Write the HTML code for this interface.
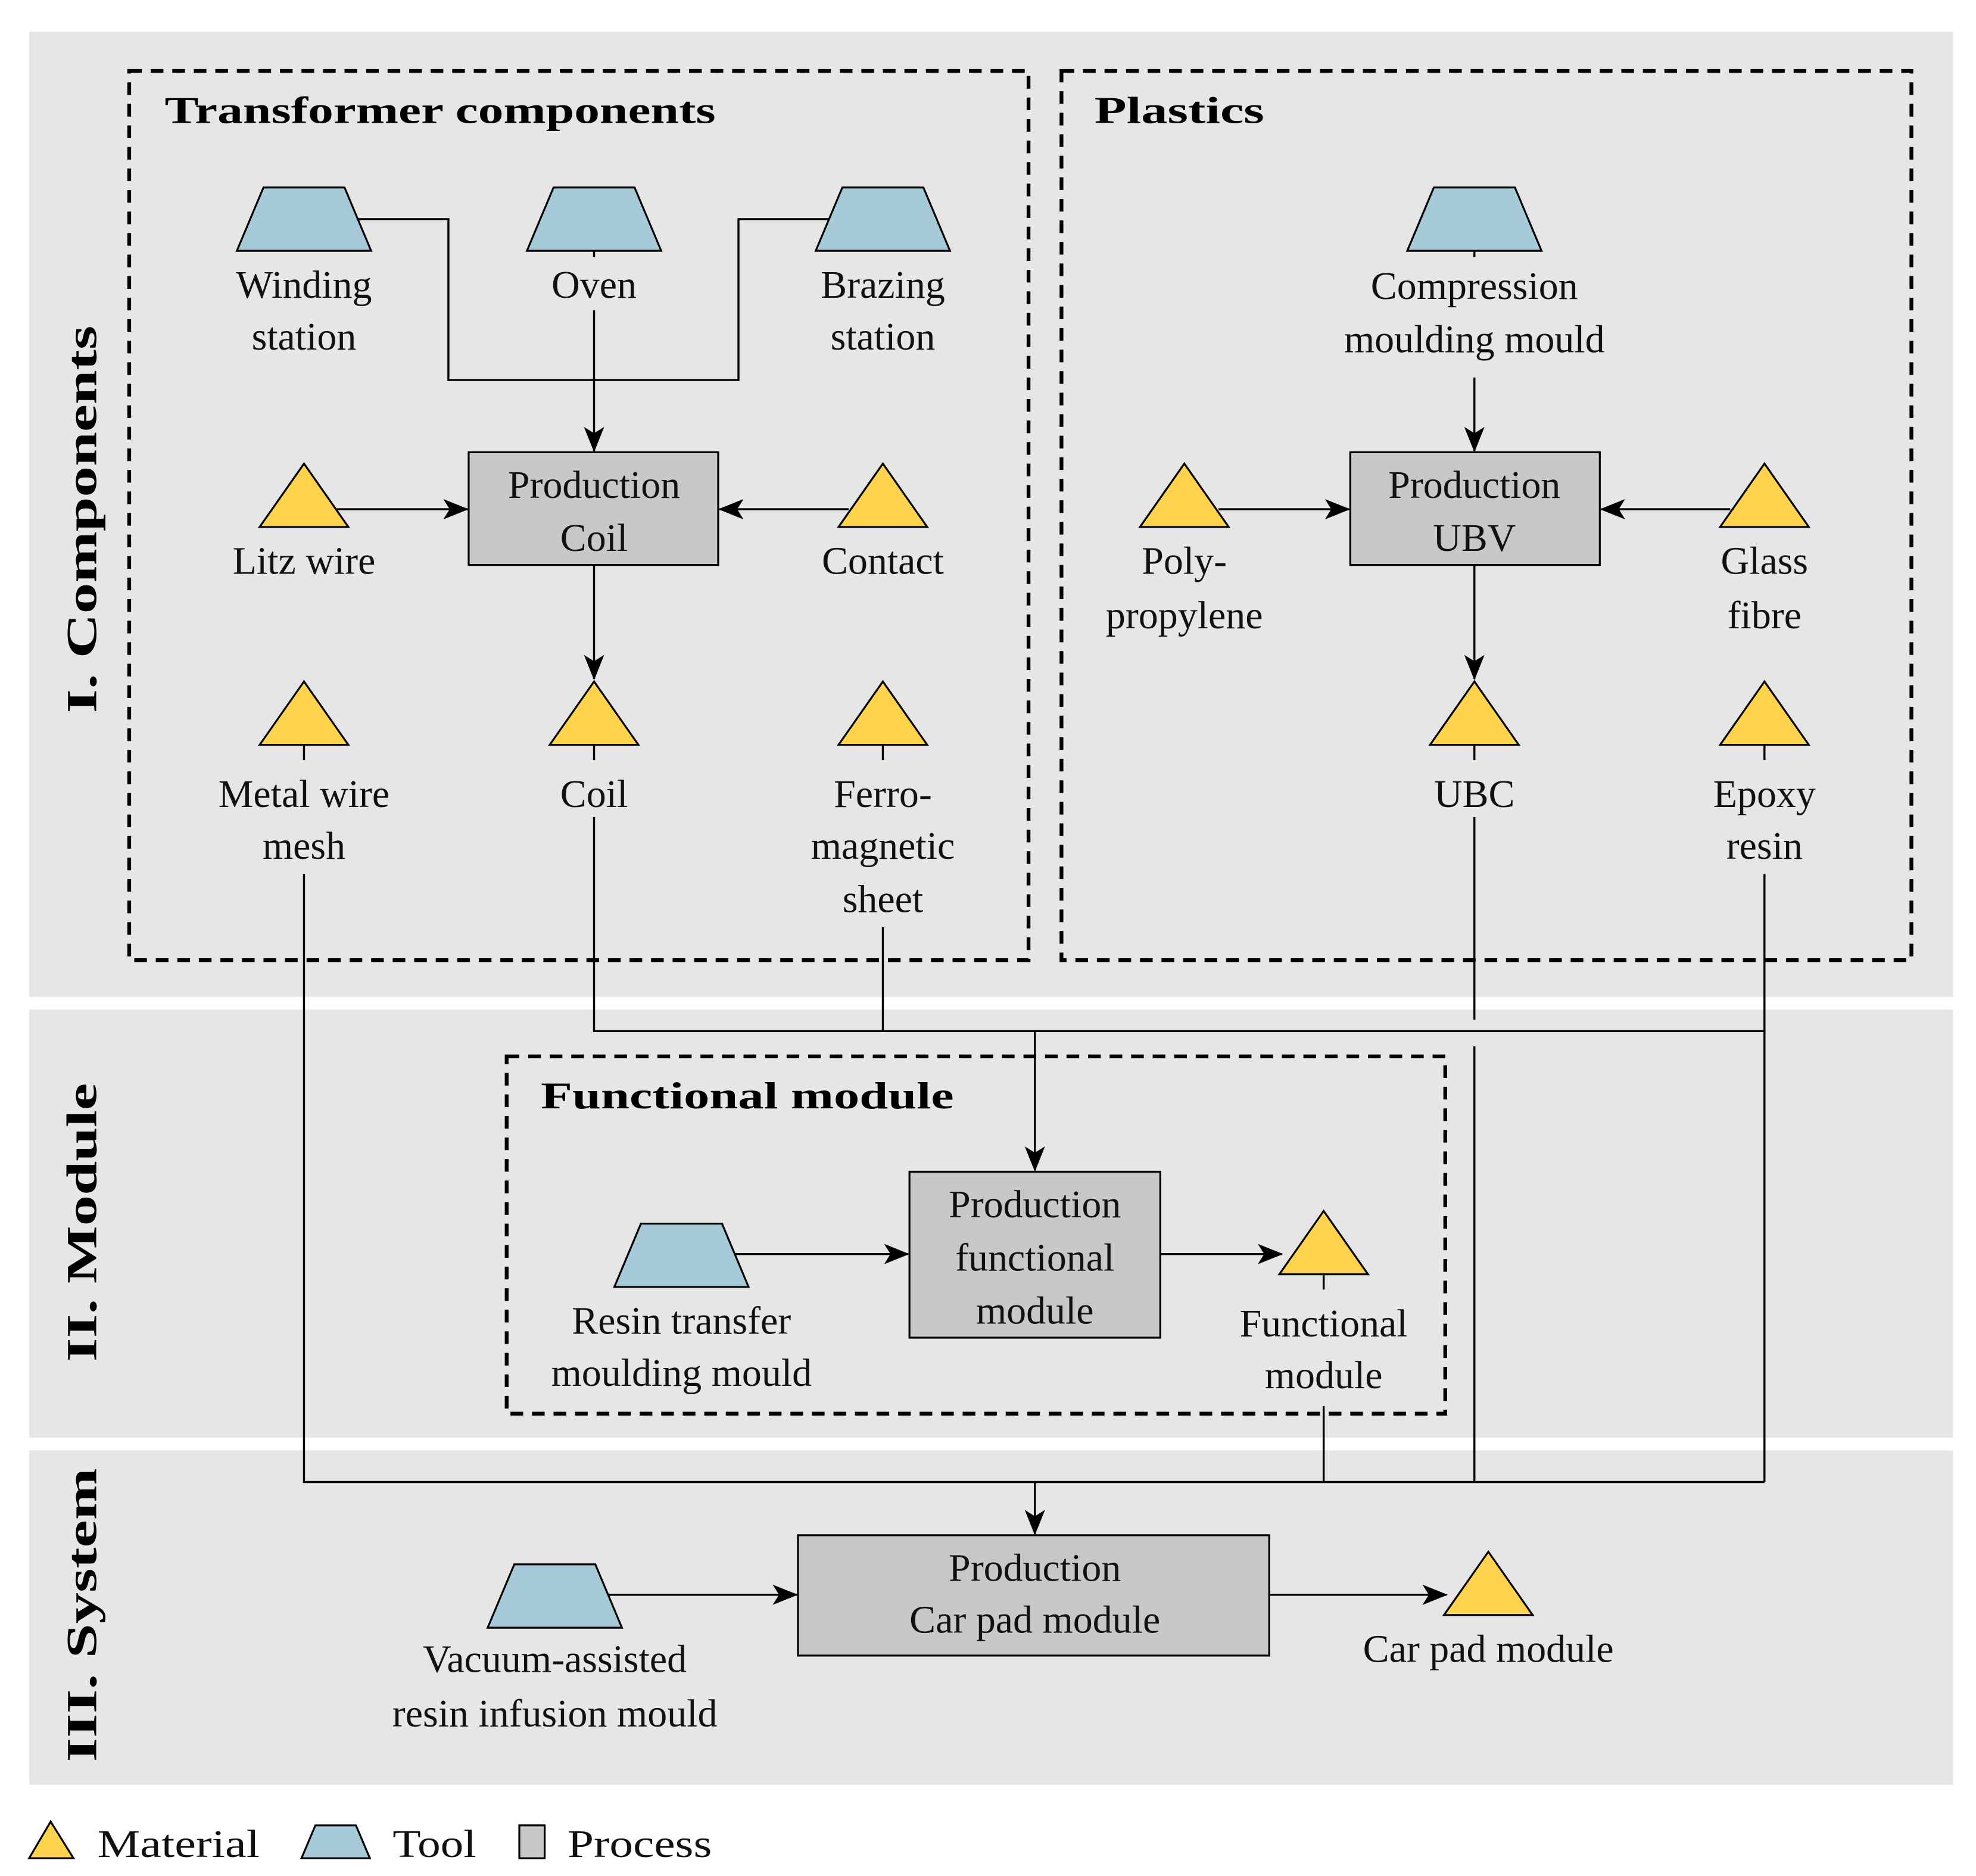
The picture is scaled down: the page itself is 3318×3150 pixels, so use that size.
<!DOCTYPE html>
<html><head><meta charset="utf-8"><style>html,body{margin:0;padding:0;background:#fff}svg{display:block}</style></head>
<body>
<svg width="3318" height="3150" viewBox="0 0 1560 1481" xmlns="http://www.w3.org/2000/svg" font-family="Liberation Serif, serif">
<defs>
<marker id="a" viewBox="0 0 20 16" refX="19" refY="8" markerWidth="20" markerHeight="16" markerUnits="userSpaceOnUse" orient="auto">
<path d="M0,0 L20,8 L0,16 L5,8 Z" fill="#000"/></marker>
<g id="tool"><polygon points="-53,25 53,25 32,-25 -32,-25" fill="#a6cad8" stroke="#000" stroke-width="1.5"/></g>
<g id="mat"><polygon points="0,-25 35,25 -35,25" fill="#ffd34e" stroke="#000" stroke-width="1.5"/></g>
</defs>
<rect x="23" y="25" width="1519" height="762" fill="#e6e6e6"/>
<rect x="23" y="797" width="1519" height="338" fill="#e6e6e6"/>
<rect x="23" y="1145" width="1519" height="264" fill="#e6e6e6"/>

<g fill="none" stroke="#000" stroke-width="3" stroke-dasharray="10,7">
<rect x="102" y="56" width="710" height="702"/>
<rect x="838" y="56" width="671" height="702"/>
<rect x="400" y="834" width="741" height="282"/>
</g>

<g font-weight="bold" font-size="30">
<text x="130" y="97" textLength="435" lengthAdjust="spacingAndGlyphs">Transformer components</text>
<text x="864" y="97" textLength="134" lengthAdjust="spacingAndGlyphs">Plastics</text>
<text x="427" y="875" textLength="326" lengthAdjust="spacingAndGlyphs">Functional module</text>
</g>
<g font-weight="bold" font-size="34" text-anchor="middle">
<text transform="translate(76,410) rotate(-90)" textLength="306" lengthAdjust="spacingAndGlyphs">I. Components</text>
<text transform="translate(76,965) rotate(-90)" textLength="220" lengthAdjust="spacingAndGlyphs">II. Module</text>
<text transform="translate(76,1275) rotate(-90)" textLength="232" lengthAdjust="spacingAndGlyphs">III. System</text>
</g>

<g fill="none" stroke="#000" stroke-width="1.6">
<polyline points="283,173 354,173 354,300 583,300 583,173 655,173"/>
<line x1="469" y1="245" x2="469" y2="356" marker-end="url(#a)"/>
<line x1="266" y1="402" x2="369" y2="402" marker-end="url(#a)"/>
<line x1="670" y1="402" x2="568" y2="402" marker-end="url(#a)"/>
<line x1="469" y1="446" x2="469" y2="536" marker-end="url(#a)"/>
<line x1="1164" y1="298" x2="1164" y2="356" marker-end="url(#a)"/>
<line x1="962" y1="402" x2="1065" y2="402" marker-end="url(#a)"/>
<line x1="1366" y1="402" x2="1264" y2="402" marker-end="url(#a)"/>
<line x1="1164" y1="446" x2="1164" y2="536" marker-end="url(#a)"/>
<polyline points="469,645 469,814 1393,814"/>
<line x1="697" y1="732" x2="697" y2="814"/>
<line x1="1393" y1="690" x2="1393" y2="1170"/>
<line x1="817" y1="814" x2="817" y2="924" marker-end="url(#a)"/>
<line x1="1164" y1="645" x2="1164" y2="805"/>
<line x1="1164" y1="826" x2="1164" y2="1170"/>
<polyline points="240,690 240,1170 1393,1170"/>
<line x1="1045" y1="1110" x2="1045" y2="1170"/>
<line x1="817" y1="1170" x2="817" y2="1211" marker-end="url(#a)"/>
<line x1="575" y1="990" x2="717" y2="990" marker-end="url(#a)"/>
<line x1="916" y1="990" x2="1012" y2="990" marker-end="url(#a)"/>
<line x1="480" y1="1259" x2="629" y2="1259" marker-end="url(#a)"/>
<line x1="1002" y1="1259" x2="1142" y2="1259" marker-end="url(#a)"/>
<line x1="469" y1="198" x2="469" y2="203"/><line x1="1164" y1="198" x2="1164" y2="203"/>
<line x1="240" y1="588" x2="240" y2="600"/><line x1="469" y1="588" x2="469" y2="600"/><line x1="697" y1="588" x2="697" y2="600"/>
<line x1="1164" y1="588" x2="1164" y2="600"/><line x1="1393" y1="588" x2="1393" y2="600"/>
<line x1="1045" y1="1006" x2="1045" y2="1018"/>
</g>

<use href="#tool" x="240" y="173"/><use href="#tool" x="469" y="173"/><use href="#tool" x="697" y="173"/>
<use href="#tool" x="1164" y="173"/><use href="#tool" x="538" y="991"/><use href="#tool" x="438" y="1260"/>
<use href="#mat" x="240" y="391"/><use href="#mat" x="697" y="391"/>
<use href="#mat" x="240" y="563"/><use href="#mat" x="469" y="563"/><use href="#mat" x="697" y="563"/>
<use href="#mat" x="935" y="391"/><use href="#mat" x="1393" y="391"/>
<use href="#mat" x="1164" y="563"/><use href="#mat" x="1393" y="563"/>
<use href="#mat" x="1045" y="981"/><use href="#mat" x="1175" y="1250"/>
<g fill="#c8c8c8" stroke="#000" stroke-width="1.5">
<rect x="370" y="357" width="197" height="89"/>
<rect x="1066" y="357" width="197" height="89"/>
<rect x="718" y="925" width="198" height="131"/>
<rect x="630" y="1212" width="372" height="95"/>
</g>

<g font-size="31" text-anchor="middle" fill="#111">
<text x="469" y="393">Production</text><text x="469" y="435">Coil</text>
<text x="1164" y="393">Production</text><text x="1164" y="435">UBV</text>
<text x="817" y="961">Production</text><text x="817" y="1003">functional</text><text x="817" y="1045">module</text>
<text x="817" y="1248">Production</text><text x="817" y="1289">Car pad module</text>
<text x="240" y="235">Winding</text><text x="240" y="276">station</text>
<text x="469" y="235">Oven</text>
<text x="697" y="235">Brazing</text><text x="697" y="276">station</text>
<text x="1164" y="236">Compression</text><text x="1164" y="278">moulding mould</text>
<text x="240" y="453">Litz wire</text><text x="697" y="453">Contact</text>
<text x="935" y="453">Poly-</text><text x="935" y="496">propylene</text>
<text x="1393" y="453">Glass</text><text x="1393" y="496">fibre</text>
<text x="240" y="637">Metal wire</text><text x="240" y="678">mesh</text>
<text x="469" y="637">Coil</text>
<text x="697" y="637">Ferro-</text><text x="697" y="678">magnetic</text><text x="697" y="720">sheet</text>
<text x="1164" y="637">UBC</text>
<text x="1393" y="637">Epoxy</text><text x="1393" y="678">resin</text>
<text x="538" y="1053">Resin transfer</text><text x="538" y="1094">moulding mould</text>
<text x="1045" y="1055">Functional</text><text x="1045" y="1096">module</text>
<text x="438" y="1320">Vacuum-assisted</text><text x="438" y="1363">resin infusion mould</text>
<text x="1175" y="1312">Car pad module</text>
</g>

<polygon points="40,1438 58,1467 23,1467" fill="#ffd34e" stroke="#000" stroke-width="1.5"/>
<polygon points="238,1467 292,1467 281,1441 249,1441" fill="#a6cad8" stroke="#000" stroke-width="1.5"/>
<rect x="410" y="1441" width="20" height="26" fill="#c8c8c8" stroke="#000" stroke-width="1.5"/>
<g font-size="31" fill="#111">
<text x="77" y="1466" textLength="128" lengthAdjust="spacingAndGlyphs">Material</text>
<text x="310" y="1466" textLength="66" lengthAdjust="spacingAndGlyphs">Tool</text>
<text x="448" y="1466" textLength="114" lengthAdjust="spacingAndGlyphs">Process</text>
</g>
</svg>
</body></html>
